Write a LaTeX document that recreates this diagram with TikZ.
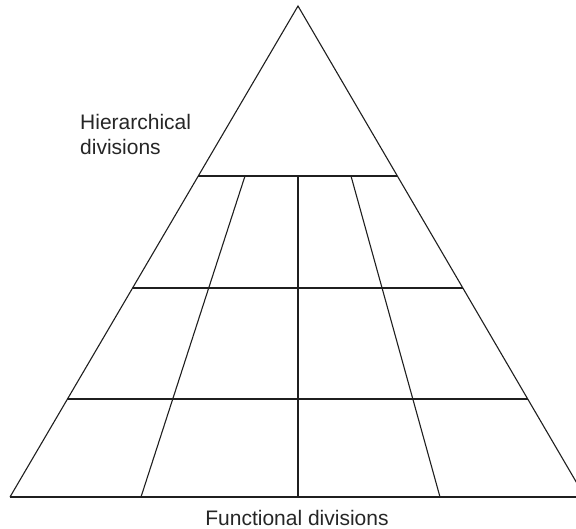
\documentclass[tikz,border=0pt]{standalone}
\usepackage{fontspec}
\setmainfont{Liberation Sans}
\usetikzlibrary{calc}
\begin{document}
\begin{tikzpicture}[x=1pt,y=-1pt,
  edge/.style={line width=1.1pt,draw=black!88},
  label/.style={font=\fontsize{21}{25}\selectfont,text=black!85,inner sep=0pt}]
\useasboundingbox (0,0) rectangle (576,529);
\begin{scope}
\clip (0,0) rectangle (576,529);
% outline of the pyramid
\coordinate (A) at (298,6);
\coordinate (L) at (10,497);
\coordinate (R) at (585,497);
\draw[edge] (L) -- (A) -- (R);
\draw[edge] (L) -- (R);
% hierarchical levels
\foreach \t/\n in {0.3462/a,0.5743/b,0.8004/c}{
  \coordinate (l\n) at ($(A)!\t!(L)$);
  \coordinate (r\n) at ($(A)!\t!(R)$);
  \draw[edge] (l\n) -- (r\n);
}
% functional columns
\coordinate (p1) at (245,176);
\coordinate (q1) at (141,497);
\coordinate (p2) at (298,176);
\coordinate (q2) at (298,497);
\coordinate (p3) at (351,176);
\coordinate (q3) at (440,497);
\draw[edge] (p1) -- (q1);
\draw[edge] (p2) -- (q2);
\draw[edge] (p3) -- (q3);
\end{scope}
\node[label,anchor=base west,align=left] (hier) at (80,155) {Hierarchical\\divisions};
\node[label,anchor=base] (func) at (297,525) {Functional divisions};
\end{tikzpicture}
\end{document}
